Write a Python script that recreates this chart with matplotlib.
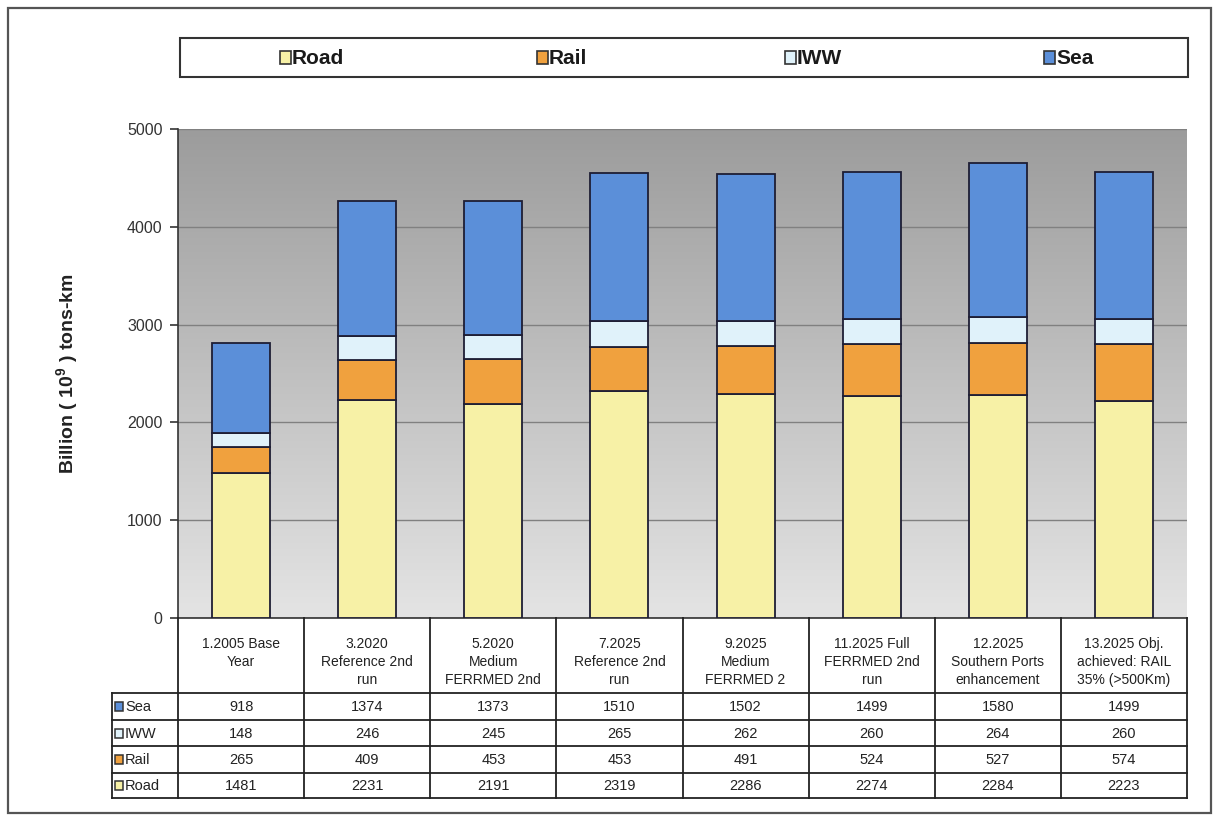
import numpy as np
import matplotlib
matplotlib.use('Agg')
import matplotlib.pyplot as plt
from matplotlib.colors import LinearSegmentedColormap
from matplotlib.patches import Rectangle

plt.rcParams['font.family'] = ['Liberation Sans', 'DejaVu Sans']
plt.rcParams['mathtext.fontset'] = 'custom'
plt.rcParams['mathtext.bf'] = 'Liberation Sans:bold'

# scenarios and tons-km per mode (billion)
scenarios = ['1.2005 Base\nYear',
             '3.2020\nReference 2nd\nrun',
             '5.2020\nMedium\nFERRMED 2nd',
             '7.2025\nReference 2nd\nrun',
             '9.2025\nMedium\nFERRMED 2',
             '11.2025 Full\nFERRMED 2nd\nrun',
             '12.2025\nSouthern Ports\nenhancement',
             '13.2025 Obj.\nachieved: RAIL\n35% (>500Km)']
road = [1481, 2231, 2191, 2319, 2286, 2274, 2284, 2223]
rail = [265, 409, 453, 453, 491, 524, 527, 574]
iww = [148, 246, 245, 265, 262, 260, 264, 260]
sea = [918, 1374, 1373, 1510, 1502, 1499, 1580, 1499]

modes = ['Road', 'Rail', 'IWW', 'Sea']
series = [road, rail, iww, sea]
colors = ['#f7f1a6', '#f0a13e', '#e0f2fa', '#5b8fd9']
edge = '#1e1e34'

W, H = 1219, 817
fig = plt.figure(figsize=(W / 100, H / 100), dpi=100)
fig.patch.set_facecolor('white')

pl, pr, pt, pb = 178, 1187, 129, 618
ax = fig.add_axes([pl / W, 1 - pb / H, (pr - pl) / W, (pb - pt) / H])

# grey gradient behind the bars
bg = LinearSegmentedColormap.from_list('bg', ['#9c9c9c', '#e4e4e4'])
ax.imshow(np.linspace(0, 1, 256)[:, None], extent=(-0.5, 7.5, 0, 5000),
          aspect='auto', cmap=bg, origin='upper', zorder=0)

x = np.arange(len(scenarios))
bottom = np.zeros(len(x))
for vals, c in zip(series, colors):
    ax.bar(x, vals, 0.46, bottom=bottom, color=c, edgecolor=edge,
           linewidth=1.3, zorder=3)
    bottom += np.array(vals)

ax.set_xlim(-0.5, 7.5)
ax.set_ylim(0, 5000)
ax.set_yticks(range(0, 5001, 1000))
ax.set_xticks([])
ax.yaxis.grid(True, color='#808080', linewidth=1.0)
ax.set_axisbelow(True)
for s in ['top', 'right']:
    ax.spines[s].set_visible(False)
for s in ['left', 'bottom']:
    ax.spines[s].set_color('#333333')
    ax.spines[s].set_linewidth(1.2)
ax.tick_params(axis='y', direction='out', length=6, width=1.2,
               color='#333333', labelsize=11.5, labelcolor='#333333', pad=5)
ax.set_ylabel(r'Billion ( 10$^{\mathbf{9}}$ ) tons-km', fontsize=14,
              fontweight='bold', color='#222222')
ax.yaxis.set_label_coords((81 - pl) / (pr - pl), 0.5)

# overlay in pixel units for the frame, legend and data table
ov = fig.add_axes([0, 0, 1, 1], zorder=5)
ov.set_xlim(0, W)
ov.set_ylim(H, 0)
ov.axis('off')
ov.patch.set_visible(False)

ov.add_patch(Rectangle((8, 8), 1203, 805, fill=False, edgecolor='#555555', lw=1.6))

# legend
ov.add_patch(Rectangle((180, 38), 1008, 39, fill=False, edgecolor='#333333', lw=1.5))
leg_x = [280, 537, 785, 1044]
for lx, name, c in zip(leg_x, modes, colors):
    ov.add_patch(Rectangle((lx, 51), 11, 13, facecolor=c, edgecolor='#333333', lw=1.2))
    ov.text(lx + 12, 58.5, name, fontsize=15, fontweight='bold',
            va='center', ha='left', color='#1a1a1a')

# data table
lc = '#222222'
col_w = (pr - pl) / len(scenarios)
edges = [pl + i * col_w for i in range(len(scenarios) + 1)]
row_y = [693, 720, 746, 773, 798]
lab_l = 112
for ex in edges:
    ov.plot([ex, ex], [pb, row_y[-1]], color=lc, lw=1.3)
ov.plot([lab_l, lab_l], [row_y[0], row_y[-1]], color=lc, lw=1.3)
for ry in row_y:
    ov.plot([lab_l, pr], [ry, ry], color=lc, lw=1.3)

for i, lab in enumerate(scenarios):
    cx = edges[i] + col_w / 2
    ov.text(cx, 637, lab, fontsize=10, ha='center', va='top',
            linespacing=1.35, color='#222222')

table_rows = list(zip(modes, series, colors))[::-1]
for r, (name, vals, c) in enumerate(table_rows):
    cy = (row_y[r] + row_y[r + 1]) / 2
    ov.add_patch(Rectangle((lab_l + 3, cy - 4.5), 8, 9, facecolor=c,
                           edgecolor='#333333', lw=1.1))
    ov.text(lab_l + 13, cy + 0.5, name, fontsize=10.5, va='center', ha='left',
            color='#222222')
    for i, v in enumerate(vals):
        ov.text(edges[i] + col_w / 2, cy + 0.5, str(v), fontsize=10.5,
                ha='center', va='center', color='#222222')

fig.savefig('out.png', dpi=100)
